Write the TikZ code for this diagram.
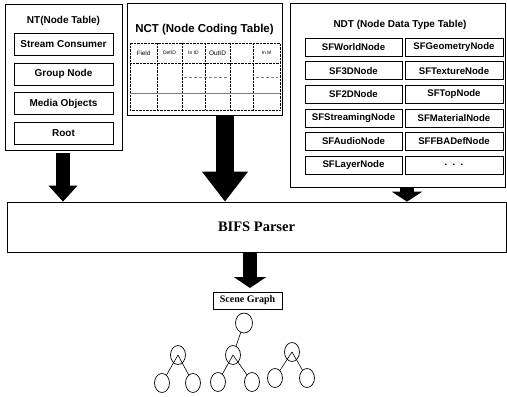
\documentclass[tikz,border=0pt]{standalone}
\usepackage{fontspec}
\setmainfont{Liberation Serif}
\setsansfont{Liberation Sans}
\usetikzlibrary{arrows.meta,shapes.geometric}
\tikzset{
    tablebox/.style = {draw, line width=0.7pt, inner sep=0pt},
    entry/.style    = {draw, line width=0.6pt, minimum width=99pt, minimum height=22pt,
                       inner sep=0pt, font=\sffamily\bfseries\fontsize{10}{11}\selectfont},
    ndtentry/.style = {entry, minimum width=97pt, minimum height=18pt,
                       font=\sffamily\bfseries\fontsize{9.6}{10}\selectfont},
    boxtitle/.style = {font=\sffamily\bfseries\fontsize{10}{11}\selectfont},
    colhead/.style  = {inner sep=0pt, font=\sffamily\fontsize{#1}{6}\selectfont},
    fatarrow/.style n args = {3}{line width=#1, -{Triangle[width=#2,length=#3]}},
    treenode/.style = {draw, ellipse, line width=0.7pt, inner sep=0pt,
                       minimum width=15pt, minimum height=19pt},
  }
\begin{document}
\begin{tikzpicture}[x=1pt, y=-1pt]
      \useasboundingbox (0,0) rectangle (507,397);

      % NT: node table
      \node[tablebox, minimum width=117pt, minimum height=146pt] (nt) at (63.5,77.5) {};
      \node[boxtitle] (nt-title) at (63.5,21) {NT(Node Table)};
      \foreach \t [count=\i from 1] in {Stream Consumer,Group Node,Media Objects,Root} {
        \node[entry] (nt-\i) at (63.5,{14.5+29.7*\i}) {\t};
      }

      % NCT: node coding table
      \node[tablebox, minimum width=155pt, minimum height=112pt] (nct) at (204.5,59) {};
      \node[boxtitle, font=\sffamily\bfseries\fontsize{11.5}{12}\selectfont] (nct-title) at (204.5,30) {NCT (Node Coding Table)};
      \draw[densely dotted] (130,43) rectangle (280,110);
      \foreach \x in {157,182,205,230,253} {
        \draw[densely dotted] (\x,43) -- (\x,110);
      }
      \draw[densely dotted] (130,63) -- (280,63);
      \draw[gray, line width=0.6pt] (130,93) -- (280,93);
      \draw[gray, densely dashed] (184,77) -- (228,77);
      \draw[gray, densely dashed] (256,77) -- (278,77);
      \foreach \x/\s/\t [count=\i from 1] in {143.5/6.2/Field,169.5/5/DefID,193.5/5/In ID,217.5/6.5/OutID,266.5/5/In M} {
        \node[colhead=\s] (col-\i) at (\x,53) {\t};
      }

      % NDT: node data type table
      \node[tablebox, minimum width=215pt, minimum height=184pt] (ndt) at (397.5,95) {};
      \node[boxtitle] (ndt-title) at (400,25) {NDT (Node Data Type Table)};
      \foreach \t [count=\i from 1] in {SFWorldNode,SF3DNode,SF2DNode,SFStreamingNode,SFAudioNode,SFLayerNode} {
        \node[ndtentry] (ndt-l\i) at (353.5,{23.4+23.6*\i}) {\t};
      }
      \foreach \t [count=\i from 1] in {SFGeometryNode,SFTextureNode,SFTopNode,SFMaterialNode,SFFBADefNode,{.\ \ .\ \ .}} {
        \node[ndtentry, minimum width=98pt] (ndt-r\i) at (454,{23.4+23.6*\i}) {\t};
      }

      % parser and scene graph
      \node[tablebox, minimum width=499pt, minimum height=50pt,
            font=\bfseries\fontsize{14.5}{15}\selectfont] (bifs) at (256.5,227) {BIFS Parser};
      \node[draw, line width=0.6pt, minimum width=69pt, minimum height=17pt, inner sep=0pt,
            font=\bfseries\fontsize{10}{11}\selectfont] (scene) at (247.5,300.5) {Scene Graph};

      % arrows into and out of the parser
      \coordinate (nt-out)   at (63,153);
      \coordinate (nct-out)  at (225,115);
      \coordinate (ndt-out)  at (407,187);
      \coordinate (bifs-out) at (250,252);
      \coordinate (scene-in) at (250,288);
      \draw[fatarrow={14pt}{28pt}{16pt}] (nt-out) -- (nt-out |- bifs.north);
      \draw[fatarrow={18pt}{44pt}{30pt}] (nct-out) -- (nct-out |- bifs.north);
      \draw[fatarrow={14pt}{30pt}{10pt}] (ndt-out) -- (ndt-out |- bifs.north);
      \draw[fatarrow={14pt}{32pt}{11pt}] (bifs-out) -- (scene-in);

      % the tree
      \node[treenode, minimum width=17pt, minimum height=20pt] (root) at (244,323) {};
      \node[treenode] (tl)  at (178,355) {};
      \node[treenode] (tl1) at (162,383) {};
      \node[treenode] (tl2) at (193,383) {};
      \node[treenode] (tm)  at (233,355) {};
      \node[treenode] (tm1) at (218,382) {};
      \node[treenode] (tm2) at (252,382) {};
      \node[treenode] (tr)  at (292,352) {};
      \node[treenode] (tr1) at (275,378) {};
      \node[treenode] (tr2) at (307,378) {};
      \draw[line width=0.6pt] (root) -- (tm);
      \foreach \p in {tl,tm,tr} {
        \draw[line width=0.6pt] (\p.center) -- (\p1);
        \draw[line width=0.6pt] (\p.center) -- (\p2);
      }
    \end{tikzpicture}
\end{document}
